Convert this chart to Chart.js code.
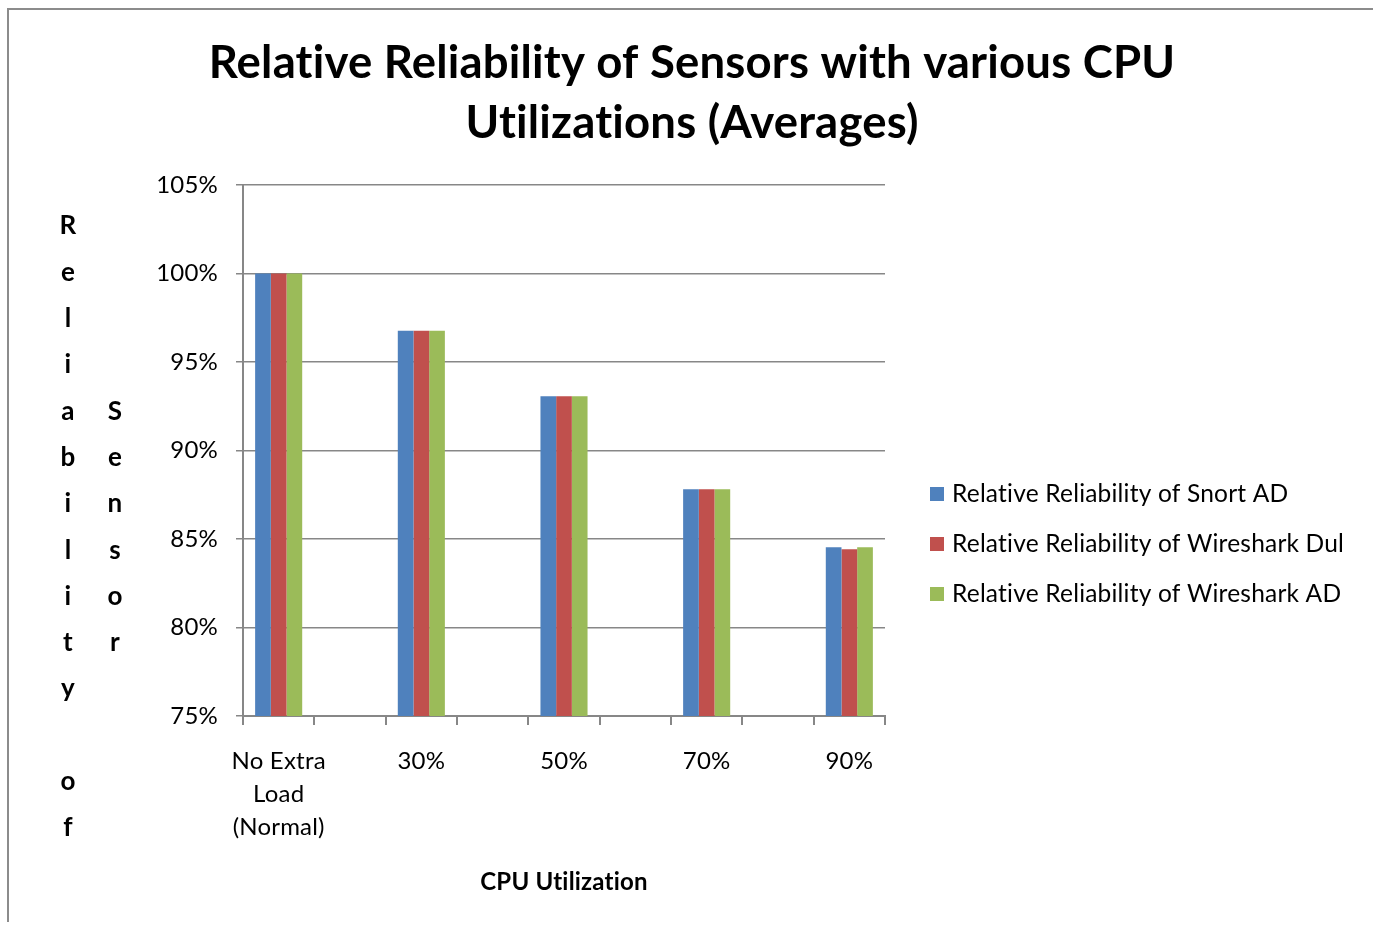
<!DOCTYPE html>
<html>
<head>
<meta charset="utf-8">
<script src="https://cdn.jsdelivr.net/npm/chart.js@4/dist/chart.umd.min.js"></script>
<style>
  html, body { margin: 0; padding: 0; background: #ffffff; }
  #wrap { width: 1373px; height: 925px; position: relative; }
</style>
</head>
<body>
<div id="wrap"><canvas id="c" width="1373" height="925"></canvas></div>
<script>
// ---- data ----
const categories = [['No Extra', 'Load', '(Normal)'], '30%', '50%', '70%', '90%'];
const seriesNames = [
  'Relative Reliability of Snort AD',
  'Relative Reliability of Wireshark Dul',
  'Relative Reliability of Wireshark AD'
];
const snortAD = [100, 96.77, 93.07, 87.81, 84.53];
const wiresharkDul = [100, 96.77, 93.07, 87.81, 84.42];
const wiresharkAD = [100, 96.77, 93.07, 87.81, 84.53];
const yTickLabels = ['75%', '80%', '85%', '90%', '95%', '100%', '105%'];
const chartTitle = ['Relative Reliability of Sensors with various CPU', 'Utilizations (Averages)'];
const xTitle = 'CPU Utilization';
const yTitleColumns = ['Reliability of', 'Sensor'];

// Excel layout has an empty slot between each category
function spread(arr, blank) {
  const out = [];
  arr.forEach((v, i) => { out.push(v); if (i < arr.length - 1) out.push(blank); });
  return out;
}

const FONT = 'Lato, "Open Sans", sans-serif';
const GRID = '#878787';
const colors = ['#4F81BD', '#C0504D', '#9BBB59'];
const seriesValues = [snortAD, wiresharkDul, wiresharkAD];

const extras = {
  id: 'extras',
  beforeDraw(chart) {
    const ctx = chart.ctx;
    // non-zero letter spacing switches off the "ti" ligatures of Lato
    try { ctx.letterSpacing = '0.2px'; } catch (e) {}
    ctx.save();
    ctx.fillStyle = '#ffffff';
    ctx.fillRect(0, 0, chart.width, chart.height);
    ctx.strokeStyle = '#8c8c8c';
    ctx.lineWidth = 2;
    ctx.beginPath();
    ctx.moveTo(8, 922);
    ctx.lineTo(8, 9);
    ctx.lineTo(1373, 9);
    ctx.stroke();
    ctx.restore();
  },
  afterDraw(chart) {
    const ctx = chart.ctx;
    ctx.save();
    // vertical stacked y-axis title
    ctx.fillStyle = '#000000';
    ctx.font = 'bold 26px ' + FONT;
    ctx.textAlign = 'center';
    ctx.textBaseline = 'middle';
    const step = 46.3, centerY = 527;
    const colX = [68, 115];
    yTitleColumns.forEach((txt, ci) => {
      const letters = txt.split('');
      const startY = centerY - step * (letters.length - 1) / 2;
      letters.forEach((ch, i) => {
        if (ch !== ' ') ctx.fillText(ch, colX[ci], startY + i * step);
      });
    });
    // legend
    ctx.font = '24.5px ' + FONT;
    ctx.textAlign = 'left';
    chart.data.datasets.forEach((ds, i) => {
      const cy = 494 + i * 50;
      ctx.fillStyle = ds.backgroundColor;
      ctx.fillRect(930, cy - 7, 14, 14);
      ctx.fillStyle = '#000000';
      ctx.fillText(ds.label, 952, cy);
    });
    ctx.restore();
  }
};

new Chart(document.getElementById('c'), {
  type: 'bar',
  data: {
    labels: spread(categories, ''),
    datasets: seriesNames.map((name, i) => ({
      label: name,
      data: spread(seriesValues[i], null),
      backgroundColor: colors[i],
      borderWidth: 0,
      categoryPercentage: 0.66,
      barPercentage: 1.0
    }))
  },
  options: {
    responsive: false,
    animation: false,
    devicePixelRatio: 1,
    layout: { padding: { left: 11, right: 0, top: 0, bottom: 0 } },
    plugins: {
      legend: { display: false },
      tooltip: { enabled: false },
      title: {
        display: true,
        text: chartTitle,
        color: '#000000',
        font: { family: FONT, size: 45.5, weight: 'bold', lineHeight: '60px' },
        padding: { top: 33, bottom: 32 }
      }
    },
    scales: {
      x: {
        grid: { display: true, drawOnChartArea: false, drawTicks: true, tickLength: 9, color: GRID, lineWidth: 2, offset: true },
        border: { display: true, color: GRID, width: 2 },
        ticks: { color: '#000000', font: { family: FONT, size: 24, lineHeight: '33px' }, padding: 20, maxRotation: 0, autoSkip: false },
        title: { display: true, text: xTitle, color: '#000000', font: { family: FONT, size: 24, weight: 'bold', lineHeight: 1.2 }, padding: { top: 0, bottom: 28 } },
        afterFit(scale) { scale.height = 209; }
      },
      y: {
        min: 75, max: 105,
        grid: { color: GRID, lineWidth: 1.5, tickLength: 7, drawTicks: true },
        border: { display: true, color: GRID, width: 2 },
        ticks: {
          stepSize: 5, color: '#000000', padding: 18,
          font: { family: FONT, size: 24 },
          callback: (v) => yTickLabels[Math.round((v - 75) / 5)]
        },
        afterFit(scale) { scale.width = 232; }
      },
      y2: {
        type: 'linear', position: 'right', display: true,
        grid: { display: false, drawTicks: false },
        border: { display: false },
        ticks: { display: false },
        afterFit(scale) { scale.width = 488; }
      }
    }
  },
  plugins: [extras]
});
</script>
</body>
</html>
